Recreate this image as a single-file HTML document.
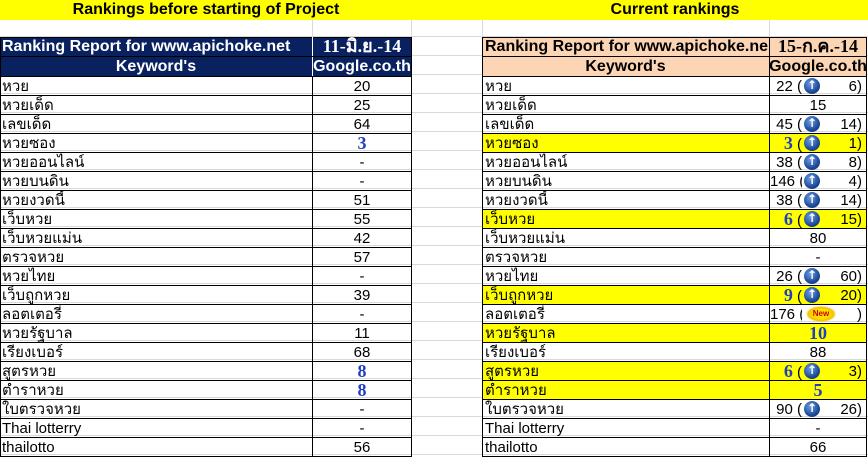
<!DOCTYPE html>
<html><head><meta charset="utf-8">
<style>
body{margin:0;width:868px;height:457px;background:#fff;position:relative;overflow:hidden;font-family:"Liberation Sans",sans-serif;font-size:15px;color:#000}
.a{position:absolute;box-sizing:border-box}
.g{position:absolute;background:#d9d9d9}
.t{font-weight:bold;font-size:16px;text-align:center;line-height:20px;white-space:nowrap;overflow:hidden}
.c{line-height:19px;white-space:nowrap;overflow:hidden}
.b{color:#1f3fc0;font-weight:bold;font-family:"Liberation Serif",serif;font-size:18px}
.ic{position:absolute;width:16px;height:16px;border-radius:50%;background:radial-gradient(circle at 40% 35%,#6f9fe0,#1d4a9a 60%,#0d2a60)}
.ic:after{content:"↑";position:absolute;left:0;right:0;top:-1px;text-align:center;color:#fff;font-weight:bold;font-size:12px;line-height:16px;font-family:"DejaVu Sans",sans-serif}
.new{position:absolute;width:30px;height:16px;background:radial-gradient(ellipse,#ffe000 40%,#f5c000 60%,rgba(255,255,255,0) 72%);color:#c00;font-size:8px;font-weight:bold;text-align:center;line-height:16px}
</style></head><body>
<div class="a" style="left:0;top:0;width:868px;height:20px;background:#ffff00"></div>
<div class="a t" style="left:0;top:0;width:412px">Rankings before starting of Project</div>
<div class="a t" style="left:482px;top:0;width:386px">Current rankings</div>
<div id="grid"></div>
<script>
const L=[["หวย","20"],["หวยเด็ด","25"],["เลขเด็ด","64"],["หวยซอง","3",1],["หวยออนไลน์","-"],["หวยบนดิน","-"],["หวยงวดนี้","51"],["เว็บหวย","55"],["เว็บหวยแม่น","42"],["ตรวจหวย","57"],["หวยไทย","-"],["เว็บถูกหวย","39"],["ลอตเตอรี่","-"],["หวยรัฐบาล","11"],["เรียงเบอร์","68"],["สูตรหวย","8",1],["ตำราหวย","8",1],["ใบตรวจหวย","-"],["Thai lotterry","-"],["thailotto","56"]];
const R=[["หวย","22","6"],["หวยเด็ด","15"],["เลขเด็ด","45","14"],["หวยซอง","3","1",1],["หวยออนไลน์","38","8"],["หวยบนดิน","146","4"],["หวยงวดนี้","38","14"],["เว็บหวย","6","15",1],["เว็บหวยแม่น","80"],["ตรวจหวย","-"],["หวยไทย","26","60"],["เว็บถูกหวย","9","20",1],["ลอตเตอรี่","176","N"],["หวยรัฐบาล","10",null,1],["เรียงเบอร์","88"],["สูตรหวย","6","3",1],["ตำราหวย","5",null,1],["ใบตรวจหวย","90","26"],["Thai lotterry","-"],["thailotto","66"]];
let h='';
for(let y=36;y<=457;y+=19)h+=`<div class="g" style="left:0;top:${y}px;width:868px;height:1px"></div>`;
[312,411,482,769].forEach(x=>h+=`<div class="g" style="left:${x}px;top:20px;width:1px;height:437px"></div>`);
h+=`<div class="a" style="left:0;top:37px;width:412px;height:40px;background:#0a2160;border:1px solid #000"></div>`;
h+=`<div class="a t" style="left:2px;top:37px;width:310px;color:#fff;text-align:left;line-height:19px">Ranking Report for www.apichoke.net</div>`;
h+=`<div class="a t" style="left:312px;top:37px;width:100px;color:#fff;font-family:'Liberation Serif',serif;font-size:18px;line-height:19px">11-มิ.ย.-14</div>`;
h+=`<div class="a t" style="left:0;top:57px;width:312px;color:#fff;line-height:19px">Keyword's</div>`;
h+=`<div class="a t" style="left:312px;top:57px;width:100px;color:#fff;line-height:19px">Google.co.th</div>`;
h+=`<div class="a" style="left:312px;top:37px;width:1px;height:40px;background:#fff"></div><div class="a" style="left:0;top:56px;width:412px;height:1px;background:#000"></div>`;
h+=`<div class="a" style="left:482px;top:37px;width:385px;height:40px;background:#fcd5b4;border:1px solid #000"></div>`;
h+=`<div class="a t" style="left:485px;top:37px;width:283px;text-align:left;line-height:19px">Ranking Report for www.apichoke.net</div>`;
h+=`<div class="a t" style="left:769px;top:37px;width:98px;font-family:'Liberation Serif',serif;font-size:18px;line-height:19px">15-ก.ค.-14</div>`;
h+=`<div class="a t" style="left:482px;top:57px;width:287px;line-height:19px">Keyword's</div>`;
h+=`<div class="a t" style="left:769px;top:57px;width:98px;line-height:19px">Google.co.th</div>`;
h+=`<div class="a" style="left:769px;top:37px;width:1px;height:40px;background:#000"></div><div class="a" style="left:482px;top:56px;width:385px;height:1px;background:#000"></div>`;
for(let i=0;i<20;i++){
 const yy=76+i*19;
 const l=L[i];
 h+=`<div class="a" style="left:0;top:${yy}px;width:412px;height:20px;border:1px solid #000"></div>`;
 h+=`<div class="a" style="left:312px;top:${yy}px;width:1px;height:20px;background:#000"></div>`;
 h+=`<div class="a c" style="left:2px;top:${yy+1}px;width:308px">${l[0]}</div>`;
 h+=`<div class="a c ${l[2]?'b':''}" style="left:312px;top:${yy+1}px;width:100px;text-align:center">${l[1]}</div>`;
 const r=R[i];
 const yl=r[3];
 h+=`<div class="a" style="left:482px;top:${yy}px;width:385px;height:20px;border:1px solid #000;${yl?'background:#ffff00':''}"></div>`;
 h+=`<div class="a" style="left:769px;top:${yy}px;width:1px;height:20px;background:#000"></div>`;
 h+=`<div class="a c" style="left:485px;top:${yy+1}px;width:282px">${r[0]}</div>`;
 if(r[2]===undefined||r[2]===null){
  h+=`<div class="a c ${yl?'b':''}" style="left:769px;top:${yy+1}px;width:98px;text-align:center">${r[1]}</div>`;
 }else{
  h+=`<div class="a c" style="left:770px;top:${yy+1}px;width:32px;text-align:right"><span class="${yl?'b':''}">${r[1]}</span> (</div>`;
  if(r[2]==='N'){h+=`<div class="new" style="left:806px;top:${yy+2}px">New</div>`;h+=`<div class="a c" style="left:820px;top:${yy+1}px;width:42px;text-align:right">)</div>`;}
  else{h+=`<div class="ic" style="left:804px;top:${yy+2}px"></div>`;h+=`<div class="a c" style="left:820px;top:${yy+1}px;width:42px;text-align:right">${r[2]})</div>`;}
 }
}
document.getElementById('grid').outerHTML=h;
</script>
</body></html>
